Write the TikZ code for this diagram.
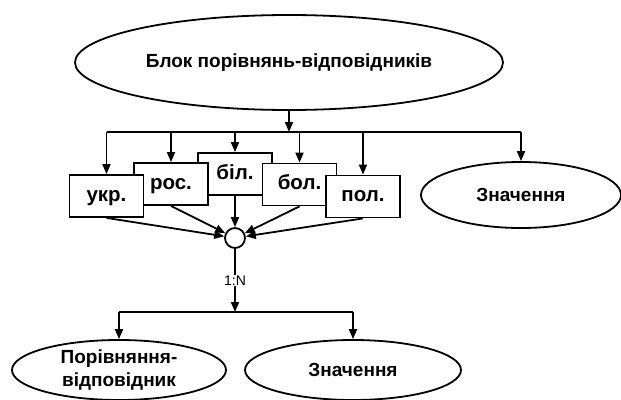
\documentclass[tikz,border=0pt]{standalone}
\usepackage{fontspec}
\setmainfont{Liberation Sans}
\usetikzlibrary{shapes.geometric,arrows.meta}
\begin{document}
\begin{tikzpicture}[x=1pt,y=-1pt, line width=1.8pt,
  arr/.style={-{Triangle[length=10pt,width=8pt]}},
  oval/.style={draw, ellipse, inner sep=0pt, font=\fontsize{19}{22.5}\selectfont\bfseries, align=center},
  lang/.style={draw, fill=white, minimum width=74pt, minimum height=42pt, inner sep=0pt, text height=10pt, text depth=0pt, font=\fontsize{20.5}{22}\selectfont\bfseries},
  lbl/.style={font=\fontsize{14}{16}\selectfont, fill=white, inner sep=1pt}]
\useasboundingbox (0,0) rectangle (621,399);
\node[oval, minimum width=428pt, minimum height=95pt] (top) at (289,62.5) {Блок порівнянь-відповідників};
\node[oval, minimum width=200pt, minimum height=66pt] (val) at (521,195) {Значення};
% language boxes (stacked)
\node[lang] (bil) at (235,174) {біл.};
\node[lang] (ros) at (171,184) {рос.};
\node[lang] (bol) at (299.5,184.5) {бол.};
\node[lang] (ukr) at (106.5,196) {укр.};
\node[lang] (pol) at (363,196.5) {пол.};
% top bus
\coordinate (bus) at (289,132);
\draw[arr] (top.south) -- (bus);
\draw (ukr.north |- bus) -- (val.north |- bus);
\foreach \n in {ukr,ros,bil,bol,pol,val}
  \draw[arr] (\n.north |- bus) -- (\n.north);
% join circle
\node[draw, circle, minimum size=20pt, inner sep=0pt] (join) at (235,238) {};
\foreach \n in {ukr,ros,bil,bol,pol}
  \draw[arr] (\n.south) -- (join);
% lower part
\node[oval, minimum width=214pt, minimum height=60pt] (cmp) at (119,370) {Порівняння-\\відповідник};
\node[oval, minimum width=216pt, minimum height=60pt] (val2) at (353,370) {Значення};
\coordinate (bus2) at (235,312);
\draw[arr] (join) -- node[lbl] {1:N} (bus2);
\draw (cmp.north |- bus2) -- (val2.north |- bus2);
\draw[arr] (cmp.north |- bus2) -- (cmp.north);
\draw[arr] (val2.north |- bus2) -- (val2.north);
\end{tikzpicture}
\end{document}
